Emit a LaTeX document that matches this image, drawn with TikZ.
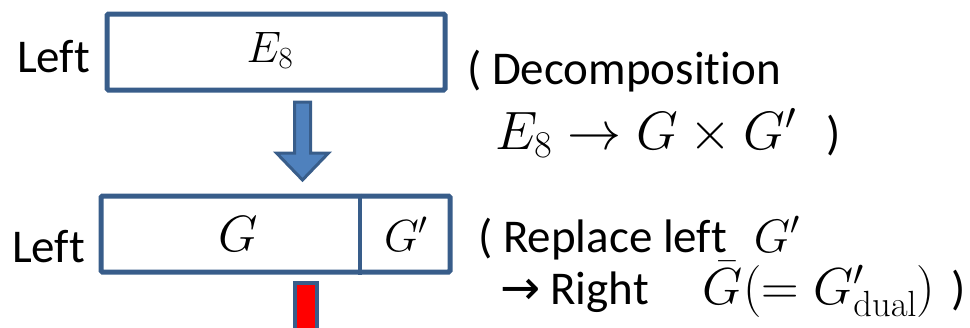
\RequirePackage{fix-cm}
\documentclass[tikz,border=0pt]{standalone}
\usepackage[no-math]{fontspec}
\setmainfont{Carlito}[Ligatures=NoCommon]
\newfontfamily\arrowfont{DejaVu Sans}
\usepackage{amsmath}
\usetikzlibrary{positioning}
\definecolor{boxblue}{RGB}{56,93,138}
\definecolor{fillblue}{RGB}{79,129,189}

\tikzset{
  stage/.style={draw=boxblue,line width=5pt,rounded corners=1.5pt,fill=white,
                inner sep=0pt,minimum height=76pt},
  txt/.style={font=\fontsize{47}{56}\selectfont,inner sep=0pt},
  sym/.style={anchor=base,inner sep=0pt},
}
\newcommand{\mbig}[2][52]{{\fontsize{#1}{60}\selectfont$#2$}}

\begin{document}
\begin{tikzpicture}[x=1pt,y=-1pt]
  \useasboundingbox (0,0) rectangle (970,327);

  % top stage
  \node[stage,minimum width=338pt] (e8box) at (276,52) {};
  \node[sym,font=\fontsize{44}{52}\selectfont] (e8) at (270,62) {$E_8$};
  \node[txt,anchor=base west] (left1) at (17,72) {Left};

  % block arrow
  \coordinate (atop) at (302.5,102);
  \draw[boxblue,fill=fillblue,line width=3pt] (atop) ++(-8,0) -- ++(0,51) -- ++(-18,0)
    -- ++(26,27) -- ++(26,-27) -- ++(-18,0) -- ++(0,-51) -- cycle;

  % second stage
  \node[stage,minimum width=349pt] (ggbox) at (275.5,234) {};
  \coordinate (split) at (360,0);
  \draw[boxblue,line width=4pt] (split |- ggbox.north) -- (split |- ggbox.south);
  \node[sym,font=\fontsize{51}{60}\selectfont] (g) at (238,251) {$G$};
  \node[sym,font=\fontsize{45}{54}\selectfont] (gp) at (406,251) {$G'$};
  \node[txt,anchor=base west] (left2) at (12,262) {Left};

  \node[draw=boxblue,fill=red,line width=4pt,minimum width=22pt,minimum height=60pt,
        inner sep=0pt,anchor=north] (redbar) at (306,281) {};

  % notes
  \node[txt,anchor=base west] (decomp) at (467,84) {( Decomposition};
  \node[txt,anchor=base west] (rule) at (495,149) {\mbig[54]{E_8\to G\times G'}\hspace{30pt})};
  \node[txt,anchor=base west] (repl) at (478,252) {( Replace left\hspace{27pt}\mbig[47]{G'}};
  \node[txt,anchor=base west] (right) at (500,304)
    {{\arrowfont\fontsize{48}{56}\selectfont →}\hspace{10pt}Right\hspace{54pt}\mbig{\bar G(=G'_{\mathrm{dual}})}\hspace{16pt})};
\end{tikzpicture}
\end{document}
